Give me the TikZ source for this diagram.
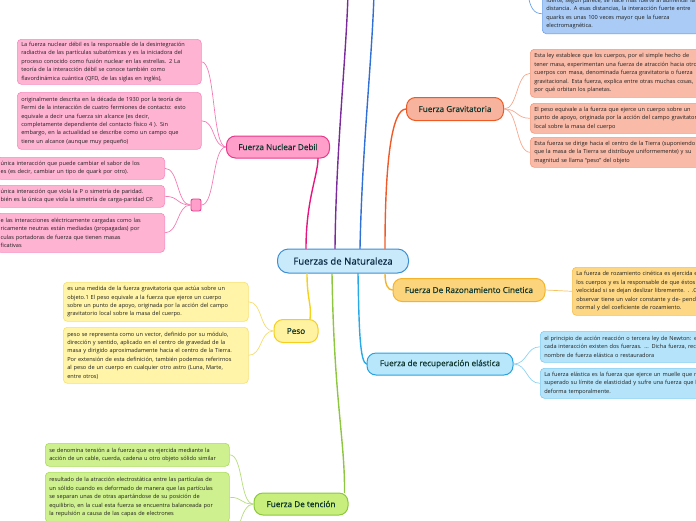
\documentclass[tikz,border=0pt]{standalone}
\usepackage{fontspec}
\setmainfont{Open Sans}
\newfontfamily\lblfont{Open Sans}[FakeBold=0.7]
\definecolor{txt}{HTML}{1E1E1E}
\definecolor{lbl}{HTML}{10382F}
\definecolor{ctxt}{HTML}{0C2A45}
% pink
\definecolor{pkF}{HTML}{FFB3D3}\definecolor{pkD}{HTML}{F58CBE}
\definecolor{pkMF}{HTML}{FF9FCA}\definecolor{pkMD}{HTML}{E8388A}
\definecolor{pkL}{HTML}{F27DB4}\definecolor{pkBr}{HTML}{E6157F}
% yellow
\definecolor{ylF}{HTML}{FFF4A8}\definecolor{ylD}{HTML}{F7E070}
\definecolor{ylMF}{HTML}{FFF2A0}\definecolor{ylMD}{HTML}{F5CE1E}
\definecolor{ylL}{HTML}{F5DC70}\definecolor{ylBr}{HTML}{F5D21A}
% green
\definecolor{grF}{HTML}{CFF08E}\definecolor{grD}{HTML}{A9DC5A}
\definecolor{grMF}{HTML}{C8EE7E}\definecolor{grMD}{HTML}{8CC83C}
\definecolor{grL}{HTML}{B5DD7A}\definecolor{grBr}{HTML}{8DC63F}
% salmon
\definecolor{saF}{HTML}{F9BBA8}\definecolor{saD}{HTML}{F39A7E}
\definecolor{saMF}{HTML}{F7B39D}\definecolor{saMD}{HTML}{EE5A24}
\definecolor{saL}{HTML}{F7A88F}\definecolor{saBr}{HTML}{F05A28}
% amber
\definecolor{amF}{HTML}{FDD784}\definecolor{amD}{HTML}{F8BF4A}
\definecolor{amMF}{HTML}{FCD47C}\definecolor{amMD}{HTML}{F5B32A}
\definecolor{amL}{HTML}{F5C060}\definecolor{amBr}{HTML}{F5B529}
% cyan
\definecolor{cyF}{HTML}{B5E4FA}\definecolor{cyD}{HTML}{7FCDF2}
\definecolor{cyMF}{HTML}{B8E6FB}\definecolor{cyMD}{HTML}{26A3E2}
\definecolor{cyL}{HTML}{8FD3F5}\definecolor{cyBr}{HTML}{29A9E6}
% central / blue / purple
\definecolor{ceF}{HTML}{C9EAFB}\definecolor{ceD}{HTML}{3D8FD4}
\definecolor{blF}{HTML}{A9CBF5}\definecolor{blD}{HTML}{6FA3E8}
\definecolor{blBr}{HTML}{2F6FD8}\definecolor{puBr}{HTML}{7A2A9A}
\begin{document}
\begin{tikzpicture}[x=1pt,y=-1pt,
  child/.style={draw, rounded corners=4pt, line width=0.6pt, align=left,
    inner xsep=4pt, inner ysep=2pt, text=txt,
    font=\fontsize{5.6}{8.4}\selectfont},
  mainnode/.style={draw, rounded corners=9pt, line width=1pt, inner sep=0pt,
    minimum height=22pt, text=lbl, font=\lblfont\fontsize{8.2}{9}\selectfont},
  sub/.style={line width=0.7pt},
  branch/.style={line width=1.4pt, line cap=round}]
\useasboundingbox (0,0) rectangle (696,520);
\clip (0,0) rectangle (696,520);

% ---------- central ----------
\node[draw=ceD, fill=ceF, line width=1pt, rounded corners=11pt, minimum width=131pt,
  minimum height=24pt, inner sep=0pt, text=ctxt, font=\lblfont\fontsize{9.6}{11}\selectfont]
  (c) at (343,261) {Fuerzas de Naturaleza};

% ---------- main branch nodes ----------
\node[mainnode, fill=pkMF, draw=pkMD, minimum width=103pt] (nd) at (278,147) {Fuerza Nuclear Debil};
\node[mainnode, fill=ylMF, draw=ylMD, minimum width=44pt, minimum height=23pt] (peso) at (296,331) {Peso};
\node[mainnode, fill=grMF, draw=grMD, minimum width=94pt] (ten) at (301,504) {Fuerza De tención};
\node[mainnode, fill=saMF, draw=saMD, minimum width=97pt, minimum height=23pt] (grav) at (455,109) {Fuerza Gravitatoria};
\node[mainnode, fill=amMF, draw=amMD, minimum width=152pt, minimum height=23pt] (raz) at (469,290) {Fuerza De Razonamiento Cinetica};
\node[mainnode, fill=cyMF, draw=cyMD, minimum width=146pt] (rec) at (440,364) {Fuerza de recuperación elástica};

% ---------- pink children ----------
\node[child, fill=pkF, draw=pkD, anchor=north west, text width=176pt, minimum height=45pt] (p1) at (17,39)
{La fuerza nuclear débil es la responsable de la desintegración\\
radiactiva de las partículas subatómicas y es la iniciadora del\\
proceso conocido como fusión nuclear en las estrellas. 2 La\\
teoría de la interacción débil se conoce también como\\
flavordinámica cuántica (QFD, de las siglas en inglés),};
\node[child, fill=pkF, draw=pkD, anchor=north west, text width=176pt, minimum height=57pt] (p2) at (17,92)
{originalmente descrita en la década de 1930 por la teoría de\\
Fermi de la interacción de cuatro fermiones de contacto: esto\\
equivale a decir una fuerza sin alcance (es decir,\\
completamente dependiente del contacto físico 4 ). Sin\\
embargo, en la actualidad se describe como un campo que\\
tiene un alcance (aunque muy pequeño)};
\node[draw=pkMD, fill=pkMF, line width=0.8pt, rounded corners=2pt, minimum width=10pt,
  minimum height=12pt, inner sep=0pt] (sq) at (196,205) {};
\node[child, fill=pkF, draw=pkD, anchor=north east, text width=160pt, minimum height=22pt] (pa) at (165,157)
{única interacción que puede cambiar el sabor de los\\
es (es decir, cambiar un tipo de quark por otro).};
\node[child, fill=pkF, draw=pkD, anchor=north east, text width=160pt, minimum height=22pt] (pb) at (165,185)
{única interacción que viola la P o simetría de paridad.\\
bién es la única que viola la simetría de carga-paridad CP.};
\node[child, fill=pkF, draw=pkD, anchor=north east, text width=160pt, minimum height=39pt] (pc) at (165,213)
{e las interacciones eléctricamente cargadas como las\\
ricamente neutras están mediadas (propagadas) por\\
culas portadoras de fuerza que tienen masas\\
ficativas};

% ---------- yellow children ----------
\node[child, fill=ylF, draw=ylD, anchor=north west, text width=177pt, minimum height=39pt] (y1) at (63,282)
{es una medida de la fuerza gravitatoria que actúa sobre un\\
objeto.1 El peso equivale a la fuerza que ejerce un cuerpo\\
sobre un punto de apoyo, originada por la acción del campo\\
gravitatorio local sobre la masa del cuerpo.};
\node[child, fill=ylF, draw=ylD, anchor=north west, text width=177pt, minimum height=56pt] (y2) at (63,327)
{peso se representa como un vector, definido por su módulo,\\
dirección y sentido, aplicado en el centro de gravedad de la\\
masa y dirigido aproximadamente hacia el centro de la Tierra.\\
Por extensión de esta definición, también podemos referirnos\\
al peso de un cuerpo en cualquier otro astro (Luna, Marte,\\
entre otros)};

% ---------- green children ----------
\node[child, fill=grF, draw=grD, anchor=north west, text width=176pt, minimum height=23pt] (g1) at (45,443)
{se denomina tensión a la fuerza que es ejercida mediante la\\
acción de un cable, cuerda, cadena u otro objeto sólido similar};
\node[child, fill=grF, draw=grD, anchor=north west, text width=176pt, minimum height=50pt] (g2) at (45,472)
{resultado de la atracción electrostática entre las partículas de\\
un sólido cuando es deformado de manera que las partículas\\
se separan unas de otras apartándose de su posición de\\
equilibrio, en la cual esta fuerza se encuentra balanceada por\\
la repulsión a causa de las capas de electrones};
\coordinate (g3) at (229,550);

% ---------- salmon children ----------
\node[child, fill=saF, draw=saD, anchor=north west, text width=220pt, minimum height=48pt] (s1) at (530,49)
{Esta ley establece que los cuerpos, por el simple hecho de\\
tener masa, experimentan una fuerza de atracción hacia otros\\
cuerpos con masa, denominada fuerza gravitatoria o fuerza\\
gravitacional. Esta fuerza, explica entre otras muchas cosas,\\
por qué orbitan los planetas.};
\node[child, fill=saF, draw=saD, anchor=north west, text width=220pt, minimum height=30pt] (s2) at (530,103)
{El peso equivale a la fuerza que ejerce un cuerpo sobre un\\
punto de apoyo, originada por la acción del campo gravitatorio\\
local sobre la masa del cuerpo};
\node[child, fill=saF, draw=saD, anchor=north west, text width=220pt, minimum height=30pt] (s3) at (530,137)
{Esta fuerza se dirige hacia el centro de la Tierra (suponiendo\\
que la masa de la Tierra se distribuye uniformemente) y su\\
magnitud se llama ``peso'' del objeto};

% ---------- amber child ----------
\node[child, fill=amF, draw=amD, anchor=north west, text width=220pt, minimum height=48pt] (r1) at (572,267)
{La fuerza de rozamiento cinética es ejercida entre\\
los cuerpos y es la responsable de que éstos pierdan\\
velocidad si se dejan deslizar libremente. . .Como se puede\\
observar tiene un valor constante y de- pende de la fuerza\\
normal y del coeficiente de rozamiento.};

% ---------- cyan children ----------
\node[child, fill=cyF, draw=cyD, anchor=north west, text width=220pt, minimum height=31pt] (c1) at (540,331)
{el principio de acción reacción o tercera ley de Newton: en\\
cada interacción existen dos fuerzas. ... Dicha fuerza, recibe el\\
nombre de fuerza elástica o restauradora};
\node[child, fill=cyF, draw=cyD, anchor=north west, text width=220pt, minimum height=30pt] (c2) at (540,368)
{La fuerza elástica es la fuerza que ejerce un muelle que no ha\\
superado su límite de elasticidad y sufre una fuerza que lo\\
deforma temporalmente.};

% ---------- top blue child ----------
\node[child, fill=blF, draw=blD, anchor=south west, text width=220pt, minimum height=40pt] (tb) at (542,34)
{fuerte, según parece, se hace más fuerte al aumentar la\\
distancia. A esas distancias, la interacción fuerte entre\\
quarks es unas 100 veces mayor que la fuerza\\
electromagnética.};
\coordinate (tbk) at (528,-6);

% ---------- off-picture branch ends ----------
\coordinate (puEnd) at (348,-6);
\coordinate (blEnd) at (374,-6);

% ---------- branches from centre ----------
\draw[branch, pkBr] ([xshift=-37pt]c.north) .. controls (306,200) and (318,175) .. ([xshift=40pt]nd.south);
\draw[branch, puBr] ([xshift=-8pt]c.north) .. controls (336,150) and (346,60) .. (puEnd);
\draw[branch, blBr] ([xshift=17pt]c.north) .. controls (362,150) and (372,60) .. (blEnd);
\draw[branch, saBr] ([xshift=42pt]c.north) .. controls (385,160) and (392,109) .. (grav.west);
\draw[branch, ylBr] ([xshift=-36pt]c.south) .. controls (307,300) and (312,305) .. ([xshift=14pt]peso.north);
\draw[branch, grBr] ([xshift=-11pt]c.south) .. controls (334,400) and (345,440) .. ([xshift=-4pt]ten.north east);
\draw[branch, cyBr] ([xshift=15pt]c.south) .. controls (359,330) and (360,362) .. (rec.west);
\draw[branch, amBr] ([xshift=42pt]c.south) .. controls (385,285) and (388,290) .. (raz.west);

% ---------- sub connectors ----------
\foreach \t in {p1,p2,sq}
  \draw[sub, pkL] (nd.west) .. controls +(-14,0) and +(14,0) .. (\t.east);
\foreach \t in {pa,pb,pc}
  \draw[sub, pkL] (sq.west) .. controls +(-14,0) and +(14,0) .. (\t.east);
\foreach \t in {y1,y2}
  \draw[sub, ylL] (peso.west) .. controls +(-14,0) and +(14,0) .. (\t.east);
\foreach \t in {g1,g2}
  \draw[sub, grL] (ten.west) .. controls +(-14,0) and +(14,0) .. (\t.east);
\draw[sub, grL] (ten.west) .. controls +(-14,0) and +(10,-10) .. (g3);
\foreach \t in {s1,s2,s3}
  \draw[sub, saL] (grav.east) .. controls +(14,0) and +(-14,0) .. (\t.west);
\draw[sub, amL] (raz.east) .. controls +(14,0) and +(-14,0) .. (r1.west);
\foreach \t in {c1,c2}
  \draw[sub, cyL] (rec.east) .. controls +(14,0) and +(-14,0) .. (\t.west);
\draw[sub, blD] (tbk) .. controls +(2,14) and +(-8,0) .. (tb.west);
\end{tikzpicture}
\end{document}
